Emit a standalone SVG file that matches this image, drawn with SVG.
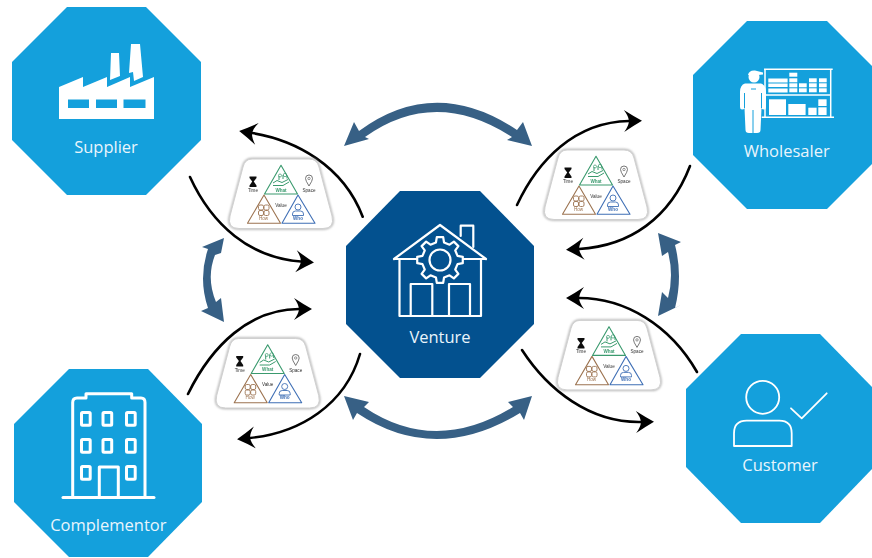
<svg xmlns="http://www.w3.org/2000/svg" width="872" height="558" viewBox="0 0 872 558">
<style>
.oct{fill:#14a0dc}
.ven{fill:#03518f}
.lbl{font-family:"Open Sans","Noto Sans",sans-serif;fill:#e9f5fc;text-anchor:middle;font-size:16.5px}
.ln{fill:none;stroke:#fff;stroke-linecap:round;stroke-linejoin:round}
.wire{fill:none;stroke:#000;stroke-width:2.6;stroke-linecap:round;marker-end:url(#head)}
.dbl{fill:#376085}
.t{font-family:"Liberation Sans",Arial,sans-serif;font-size:4.6px;text-anchor:middle;fill:#333}
.g{fill:none;stroke:#3a9a6e;stroke-width:1.1;stroke-linejoin:round}
.b{fill:none;stroke:#9c7350;stroke-width:1.1;stroke-linejoin:round}
.u{fill:none;stroke:#3f6fb5;stroke-width:1.1;stroke-linejoin:round}
</style>
<defs>
<marker id="head" markerUnits="userSpaceOnUse" markerWidth="20" markerHeight="24" refX="5" refY="12" orient="auto" overflow="visible">
<path d="M0 1Q9 7 18 12Q9 17 0 23Q4.500 17 5 12Q4.500 7 0 1Z" fill="#000"/>
</marker>
<filter id="soft" x="-5%" y="-5%" width="110%" height="110%"><feGaussianBlur stdDeviation="0.3"/></filter>
<filter id="shade" x="-5%" y="-5%" width="110%" height="110%"><feGaussianBlur stdDeviation="0.8"/></filter>
<path id="cardshape" d="M252 159H309Q317 159 319 167L332 216Q335 228.500 323 228.500H239Q227 228.500 230 216L243 167Q245 159 252 159Z"/>
<g id="card">
<use href="#cardshape" fill="none" stroke="#b5b5b5" stroke-width="2.400" filter="url(#shade)"/>
<g filter="url(#soft)">
<use href="#cardshape" fill="#fff" stroke="#d0d0d0" stroke-width="1"/>
<path class="g" d="M281 165.300L297.500 194H264.500Z"/>
<path class="b" d="M264 195L280.500 223.300H247.500Z"/>
<path class="u" d="M298 195L315 223.300H282Z"/>
<path d="M249.500 176.500H256.500V178L253.800 181.500L256.500 185.500V187H249.500V185.500L252.200 181.500L249.500 178Z" fill="#111"/>
<path d="M309 186Q305.500 180.500 305.500 178.500A3.500 3.500 0 0 1 312.500 178.500Q312.500 180.500 309 186Z" fill="none" stroke="#555" stroke-width=".8"/>
<circle cx="309" cy="178.500" r="1.200" fill="none" stroke="#555" stroke-width=".6"/>
<path d="M273 183L277 180.500L282 182.500L288 179.500M273 185.500H283L289 182M279 180V176M283 179V175M287 178.500V175.500" fill="none" stroke="#3a9a6e" stroke-width="1"/>
<circle cx="280" cy="175.500" r="1.500" fill="none" stroke="#3a9a6e" stroke-width=".7"/>
<circle cx="285" cy="175" r="1.700" fill="none" stroke="#3a9a6e" stroke-width=".7"/>
<g fill="none" stroke="#9c7350" stroke-width=".9"><rect x="258.500" y="205" width="5" height="5" rx="1.500"/><rect x="264" y="205" width="5" height="5" rx="1.500"/><rect x="258.500" y="210.500" width="5" height="5" rx="1.500"/><rect x="264" y="210.500" width="5" height="5" rx="1.500"/></g>
<circle cx="298" cy="207" r="3" fill="none" stroke="#3f6fb5" stroke-width=".9"/>
<path d="M292.500 215.500V214Q292.500 211 295.500 211H300.500Q303.500 211 303.500 214V215.500Z" fill="none" stroke="#3f6fb5" stroke-width=".9"/>
<text class="t" x="253" y="192">Time</text>
<text class="t" x="309" y="192">Space</text>
<text class="t" x="281" y="206.500">Value</text>
<text class="t" x="281" y="191.500" font-weight="700" style="fill:#3a9a6e">What</text>
<text class="t" x="263.500" y="219.500" style="fill:#9c7350">How</text>
<text class="t" x="298" y="219.500" font-weight="700" style="fill:#3f6fb5">Who</text>
</g>
</g>
</defs>
<rect width="872" height="558" fill="#fff"/>

<g id="connectors">
<path class="wire" d="M362.700 216.700C343 165 295 140 252 133"/>
<path class="wire" d="M190 177C212 225 250 258 301 261.500"/>
<path class="wire" d="M188 394C212 345 250 309 299 309"/>
<path class="wire" d="M360 354C345 405 300 433 250 438"/>
<path class="wire" d="M517 205C538 160 575 122 629 121"/>
<path class="wire" d="M690 166C670 218 630 246 579 249"/>
<path class="wire" d="M697 372C670 325 625 298 579 298"/>
<path class="wire" d="M522 350C548 390 590 423 641 422"/>
<path class="dbl" d="M344 146L354 122L359 131Q435 75 517 130L523 122L532 146L507 140L512 137Q435 87 365 137L369 139Z"/>
<path class="dbl" d="M344 396L369 402L364 407Q435 455 513 407L508 402L532 396L524 420L520 413Q435 465 357 413L353 420Z"/>
<path class="dbl" d="M224 238L202 247L208 249Q198 278.500 208 308L201 311L224 322L221 298L216 302Q206 278 215 255L221 253Z"/>
<path class="dbl" d="M658 233L681 242L675 245Q683 276 675 308L681 305L658 316L662 292L668 298Q674 275 668 252L662 256Z"/>
</g>

<g id="card-supplier"><use href="#card"/></g>
<g id="card-wholesaler"><use href="#card" transform="translate(315 -9)"/></g>
<g id="card-complementor"><use href="#card" transform="translate(-13.300 179.500)"/></g>
<g id="card-customer"><use href="#card" transform="translate(328 161.400)"/></g>

<g id="supplier">
<polygon class="oct" points="67,7 146,7 201,62 201,140 146,195 67,195 12,140 12,62"/>
<path fill="#fff" d="M59 87L83 77V87L107 77V87L130 77V87L154 77V119H59Z"/>
<path fill="#fff" d="M111 53H119L120 76L110 80ZM131 44H140L143 77L134 81L133 72L129 73Z"/>
<g class="oct"><rect x="68" y="99.500" width="21" height="8.500"/><rect x="96" y="99.500" width="21" height="8.500"/><rect x="123.500" y="99.500" width="22" height="8.500"/></g>
<text class="lbl" x="106" y="152.700">Supplier</text>
</g>

<g id="wholesaler">
<polygon class="oct" points="747,21 827,21 881,75 881,155 827,209 747,209 693,155 693,75"/>
<g fill="#fff">
<circle cx="754" cy="77" r="5.500"/>
<path d="M748 75Q749 70 755 70.500L763 72.500V74.500L758 75L752 76Z"/>
<path d="M745 83.500H761Q766 85 766 92V107Q766 109.500 764 109.500Q762 109.500 761.500 108L760.500 130Q760.500 133 757 133H749Q745.500 133 745.500 130L744.500 108Q744 109.500 742 109.500Q740 109.500 740 107V92Q740 85 745 83.500Z"/>
<rect x="768.300" y="78.500" width="19.300" height="4"/><rect x="768.300" y="83.500" width="19.300" height="3.500"/><rect x="768.300" y="88.500" width="19.300" height="4"/>
<rect x="789.300" y="72.700" width="8" height="4"/><rect x="789.300" y="78.300" width="8" height="4"/><rect x="789.300" y="83.300" width="8" height="4"/><rect x="789.300" y="88.300" width="8" height="4"/>
<rect x="799" y="83.300" width="7.700" height="4"/><rect x="799" y="88.300" width="7.700" height="4"/>
<rect x="809" y="78.300" width="7.700" height="4"/><rect x="809" y="83.300" width="7.700" height="4"/><rect x="809" y="88.300" width="7.700" height="4"/>
<rect x="819" y="78.300" width="7.700" height="4"/><rect x="819" y="83.300" width="7.700" height="4"/><rect x="819" y="88.300" width="7.700" height="4"/>
<rect x="769" y="99.300" width="17" height="15.700"/><rect x="788.300" y="104" width="17.300" height="11"/><rect x="808.300" y="107.700" width="8.300" height="7.300"/><rect x="818.300" y="99.300" width="8.300" height="6.700"/><rect x="818.300" y="107.300" width="8.300" height="7.700"/>
</g>
<path d="M744.500 93V108M761.500 93V108M753 110V133M751 89H756" fill="none" stroke="#14a0dc" stroke-width="1"/>
<path d="M764 69.300H832.700M765 69V118M830.700 69V118M765 95H831M761.700 117.300H834" fill="none" stroke="#fff" stroke-width="1.500"/>
<text class="lbl" x="786.700" y="156.700">Wholesaler</text>
</g>

<g id="complementor">
<polygon class="oct" points="69,369 148,369 202,424 202,502 148,557 69,557 14,502 14,424"/>
<g class="ln" stroke-width="3">
<path d="M72.700 496.700V402.500Q72.700 398 77 398H86V393.800H131.700V398H141Q145 398 145 402.500V496.700"/>
<path d="M63 497.500H154"/>
<path d="M99.300 496.700V467H118.300V496.700"/>
<rect x="81.500" y="412.500" width="8.700" height="12.700" rx="1"/><rect x="103" y="412.500" width="8.700" height="12.700" rx="1"/><rect x="126.500" y="412.500" width="8.700" height="12.700" rx="1"/>
<rect x="81.500" y="439.500" width="8.700" height="12.700" rx="1"/><rect x="103" y="439.500" width="8.700" height="12.700" rx="1"/><rect x="126.500" y="439.500" width="8.700" height="12.700" rx="1"/>
<rect x="81.500" y="466.500" width="8.700" height="12.700" rx="1"/><rect x="126.500" y="466.500" width="8.700" height="12.700" rx="1"/>
</g>
<text class="lbl" x="108.300" y="530.700">Complementor</text>
</g>

<g id="customer">
<polygon class="oct" points="741,334 820,334 874,389 874,467 820,523 741,523 686,467 686,389"/>
<g class="ln" stroke-width="1.800">
<circle cx="762.700" cy="397.300" r="16.500"/>
<path d="M734 446V433.300Q734 420.700 746.700 420.700H779.300Q791.700 420.700 791.700 433.300V446Z"/>
<path d="M791 408.300L801.700 418.300L826.700 393.300"/>
</g>
<text class="lbl" x="780" y="470.700">Customer</text>
</g>

<g id="venture">
<polygon class="ven" points="400,191 480,191 534,246 534,324 480,378 400,378 346,324 346,246"/>
<g class="ln" stroke-width="2.200">
<path d="M394 259L440 225L486 259M394 259H420M460 259H486"/>
<path d="M460.700 236V225.700H473.300V247"/>
<path d="M399.500 259V316H481V259"/>
<path d="M410.700 315V284H432.300V315M449 315V284H470V315"/>
<path fill="#03518f" transform="translate(440 260)" d="M-4.050 -17.540L-3.200 -22.780L3.200 -22.780L4.050 -17.540L9.540 -15.270L13.850 -18.370L18.370 -13.850L15.270 -9.540L17.540 -4.050L22.780 -3.200L22.780 3.200L17.540 4.050L15.270 9.540L18.370 13.850L13.850 18.370L9.540 15.270L4.050 17.540L3.200 22.780L-3.200 22.780L-4.050 17.540L-9.540 15.270L-13.850 18.370L-18.370 13.850L-15.270 9.540L-17.540 4.050L-22.780 3.200L-22.780 -3.200L-17.540 -4.050L-15.270 -9.540L-18.370 -13.850L-13.850 -18.370L-9.540 -15.270Z"/>
<circle cx="440" cy="260" r="10.500"/>
</g>
<text class="lbl" x="440" y="342.700">Venture</text>
</g>
</svg>
